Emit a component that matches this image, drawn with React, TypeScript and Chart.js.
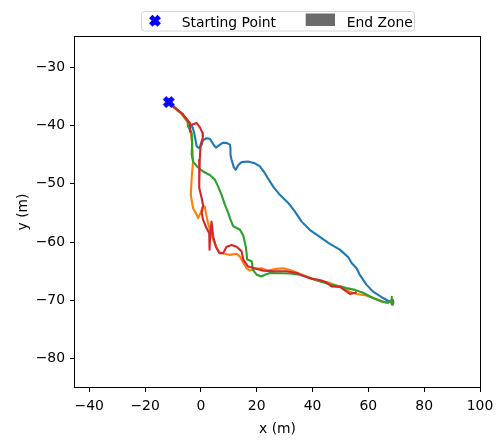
import React, { useEffect, useRef } from "react";
import { Chart, registerables } from "chart.js";

Chart.register(...registerables);

// Recorded trajectories, [x, y] in metres
const trial1: [number, number][] = [
  [-11.5, -36.0], [-9.3, -37.0], [-6.8, -38.0], [-4.7, -39.2], [-2.9, -40.4], [-2.4, -41.3],
  [-1.5, -43.6], [-0.6, -43.9], [0.3, -43.3], [0.8, -42.5], [2.0, -42.2], [3.2, -42.3],
  [4.4, -43.2], [5.4, -43.8], [6.6, -43.4], [7.8, -43.0], [9.2, -43.0], [10.4, -43.3],
  [10.6, -43.9], [10.6, -45.0], [11.0, -45.9], [11.8, -47.2], [12.5, -47.6], [13.4, -46.8],
  [14.6, -46.3], [16.9, -46.2], [19.3, -46.5], [21.1, -47.0], [22.9, -48.2], [25.9, -50.5],
  [28.3, -51.9], [31.3, -53.3], [33.7, -54.8], [36.1, -56.5], [39.0, -57.9], [42.6, -59.1],
  [46.2, -60.3], [49.8, -61.3], [52.8, -62.6], [54.0, -63.6], [55.8, -64.5], [56.9, -65.6],
  [59.3, -67.3], [61.7, -68.5], [65.3, -69.6], [68.3, -70.4],
];

const trial2: [number, number][] = [
  [-11.5, -36.0], [-9.3, -37.1], [-6.8, -38.1], [-4.9, -39.4], [-3.7, -41.0], [-3.1, -43.3],
  [-2.8, -46.2], [-3.3, -49.0], [-3.6, -51.9], [-3.3, -52.8], [-2.8, -54.2], [-1.5, -55.3],
  [-1.0, -55.9], [-0.1, -55.0], [0.6, -54.0], [1.4, -53.9], [1.8, -55.0], [2.3, -56.2],
  [3.2, -57.9], [4.4, -59.6], [5.6, -61.0], [6.8, -61.8], [8.6, -62.0], [10.4, -62.2],
  [12.8, -62.0], [14.0, -62.5], [15.2, -63.6], [16.4, -64.5], [17.6, -64.9], [19.3, -64.6],
  [21.7, -64.5], [24.1, -64.9], [27.1, -64.6], [29.5, -64.5], [31.9, -64.8], [34.3, -65.2],
  [37.9, -65.9], [41.4, -66.6], [46.2, -67.0], [51.0, -67.9], [53.4, -68.5], [55.8, -68.9],
  [58.7, -69.1], [61.7, -69.6], [66.5, -70.4], [68.3, -70.2],
];

const trial3: [number, number][] = [
  [-11.5, -36.0], [-9.3, -37.0], [-6.8, -38.0], [-4.7, -39.2], [-4.6, -40.2], [-3.3, -41.3],
  [-3.1, -42.8], [-3.3, -45.0], [-2.8, -46.2], [-1.5, -47.0], [0.8, -47.9], [3.2, -48.5],
  [5.0, -49.3], [6.2, -50.5], [7.4, -51.9], [8.6, -53.6], [9.8, -55.0], [10.4, -55.9],
  [11.6, -57.3], [14.0, -57.9], [15.2, -58.9], [16.1, -60.8], [16.6, -63.0], [18.2, -63.3],
  [18.7, -64.8], [20.0, -65.6], [21.7, -65.9], [22.9, -65.6], [24.7, -65.3], [31.9, -65.4],
  [35.5, -65.6], [39.6, -66.2], [43.2, -66.8], [46.2, -67.3], [49.8, -67.6], [52.2, -67.9],
  [55.2, -68.2], [58.1, -68.7], [61.7, -69.6], [64.7, -70.2], [67.1, -70.4], [68.3, -69.9],
  [68.4, -69.4], [68.4, -70.7],
];

const trial4: [number, number][] = [
  [-11.5, -36.0], [-9.2, -37.0], [-6.6, -38.0], [-4.5, -39.3], [-3.9, -39.6], [-3.9, -40.5],
  [-3.8, -41.1], [-3.8, -40.1], [-2.8, -39.8], [-1.5, -39.6], [-0.4, -40.3], [0.6, -41.3],
  [0.7, -42.1], [-0.1, -43.3], [-0.4, -45.9], [-0.6, -48.5], [-0.6, -50.7], [0.3, -52.5],
  [0.8, -53.8], [0.3, -55.0], [0.8, -56.2], [2.0, -57.6], [3.0, -58.5], [3.2, -60.2],
  [3.0, -61.3], [3.3, -59.3], [3.8, -56.5], [4.4, -59.0], [5.4, -60.8], [6.6, -61.9],
  [8.0, -61.9], [9.2, -60.8], [11.0, -60.5], [12.8, -60.8], [14.6, -61.6], [15.2, -63.0],
  [16.9, -64.2], [19.3, -64.5], [22.3, -64.9], [25.9, -65.0], [30.7, -65.0], [34.3, -65.3],
  [36.6, -65.8], [39.6, -66.3], [42.6, -66.5], [45.0, -66.9], [46.8, -67.6], [49.8, -67.7],
  [51.6, -68.3], [53.4, -68.9], [55.2, -68.7], [55.8, -68.5],
];

const startPoint: [number, number] = [-11.5, -36.0];
const endZoneCenter: [number, number] = [68.7, -70.3];
const endZoneRadius = 0.6;

const xTicks = [-40, -20, 0, 20, 40, 60, 80, 100];
const yTicks = [-80, -70, -60, -50, -40, -30];
const xLimits = [-45.1, 100];
const yLimits = [-84.85, -24.85];

const trialColors = ["#1f77b4", "#ff7f0e", "#2ca02c", "#d62728"];
const START_COLOR = "#0000ff";
const END_COLOR = "#6b6b6b";
const FONT_FAMILY = "'DejaVu Sans', 'Liberation Sans', sans-serif";
const FONT_SIZE = 13.9;

const fmt = (v: number) => (v < 0 ? "\u2212" + Math.abs(v) : String(v));

// Filled "X" marker: a plus shape rotated by 45 degrees
function traceXMarker(ctx: CanvasRenderingContext2D, cx: number, cy: number, r: number) {
  const pts = [
    [-1, -3], [1, -3], [1, -1], [3, -1], [3, 1], [1, 1],
    [1, 3], [-1, 3], [-1, 1], [-3, 1], [-3, -1], [-1, -1],
  ];
  const c = Math.SQRT1_2;
  ctx.beginPath();
  pts.forEach(([px, py], i) => {
    const x = (px / 3) * r;
    const y = (py / 3) * r;
    const rx = cx + (x - y) * c;
    const ry = cy + (x + y) * c;
    if (i === 0) ctx.moveTo(rx, ry);
    else ctx.lineTo(rx, ry);
  });
  ctx.closePath();
}

function drawXMarker(ctx: CanvasRenderingContext2D, cx: number, cy: number, r: number, color: string) {
  ctx.save();
  traceXMarker(ctx, cx, cy, r);
  ctx.fillStyle = color;
  ctx.strokeStyle = color;
  ctx.lineWidth = 1.2;
  ctx.lineJoin = "miter";
  ctx.fill();
  ctx.stroke();
  ctx.restore();
}

const toPoints = (arr: [number, number][]) => arr.map(([x, y]) => ({ x, y }));

export default function App() {
  const ref = useRef<HTMLCanvasElement>(null);

  useEffect(() => {
    const canvas = ref.current;
    if (!canvas) return;

    const marker = document.createElement("canvas");
    marker.width = 16;
    marker.height = 16;
    const mctx = marker.getContext("2d")!;
    drawXMarker(mctx, 8, 8, 5.4, START_COLOR);

    // End zone circle (in data units) beneath the trajectories
    const endZonePlugin = {
      id: "endZone",
      beforeDatasetsDraw(chart: any) {
        const { ctx, chartArea, scales } = chart;
        const cx = scales.x.getPixelForValue(endZoneCenter[0]);
        const cy = scales.y.getPixelForValue(endZoneCenter[1]);
        const rx = Math.abs(scales.x.getPixelForValue(endZoneCenter[0] + endZoneRadius) - cx);
        const ry = Math.abs(scales.y.getPixelForValue(endZoneCenter[1] + endZoneRadius) - cy);
        ctx.save();
        ctx.beginPath();
        ctx.rect(chartArea.left, chartArea.top, chartArea.width, chartArea.height);
        ctx.clip();
        ctx.beginPath();
        ctx.ellipse(cx, cy, rx, ry, 0, 0, Math.PI * 2);
        ctx.fillStyle = END_COLOR;
        ctx.fill();
        ctx.restore();
      },
    };

    // Axes frame and legend box
    const framePlugin = {
      id: "frame",
      afterDatasetsDraw(chart: any) {
        const { ctx, chartArea } = chart;
        ctx.save();
        ctx.strokeStyle = "#000";
        ctx.lineWidth = 1;
        ctx.strokeRect(
          Math.round(chartArea.left) - 0.5,
          Math.round(chartArea.top) - 0.5,
          Math.round(chartArea.width) + 1,
          Math.round(chartArea.height) + 1
        );
        ctx.restore();
      },
      afterDraw(chart: any) {
        const { ctx, chartArea } = chart;
        const cx = (chartArea.left + chartArea.right) / 2;
        const left = cx - 136.5;
        const top = 11.5;
        const w = 273;
        const h = 19.5;
        ctx.save();
        ctx.beginPath();
        ctx.roundRect(left + 0.5, top, w, h, 3);
        ctx.fillStyle = "rgba(255,255,255,0.8)";
        ctx.fill();
        ctx.strokeStyle = "#d5d5d5";
        ctx.lineWidth = 1;
        ctx.stroke();

        drawXMarker(ctx, left + 14, 20.7, 5.4, START_COLOR);

        ctx.font = `${FONT_SIZE}px ${FONT_FAMILY}`;
        ctx.fillStyle = "#000";
        ctx.textBaseline = "alphabetic";
        ctx.textAlign = "left";
        ctx.fillText("Starting Point", left + 40.7, 26.6);

        ctx.fillStyle = END_COLOR;
        ctx.fillRect(left + 164.7, 13.5, 29.3, 12.5);

        ctx.fillStyle = "#000";
        ctx.fillText("End Zone", left + 205.7, 26.6);
        ctx.restore();
      },
    };

    const lineDataset = (data: [number, number][], color: string, order: number) => ({
      data: toPoints(data),
      showLine: true,
      borderColor: color,
      backgroundColor: color,
      borderWidth: 2.1,
      borderJoinStyle: "round" as const,
      borderCapStyle: "butt" as const,
      pointRadius: 0,
      pointHoverRadius: 0,
      tension: 0,
      order,
    });

    const tickFont = { family: FONT_FAMILY, size: FONT_SIZE };

    const chart = new Chart(canvas, {
      type: "scatter",
      data: {
        datasets: [
          {
            data: [{ x: startPoint[0], y: startPoint[1] }],
            pointStyle: marker as any,
            pointRadius: 8,
            order: 0,
          } as any,
          lineDataset(trial4, trialColors[3], 1),
          lineDataset(trial3, trialColors[2], 2),
          lineDataset(trial2, trialColors[1], 3),
          lineDataset(trial1, trialColors[0], 4),
        ],
      },
      options: {
        animation: false,
        responsive: false,
        devicePixelRatio: 1,
        events: [],
        layout: { padding: { left: 0, right: 17, top: 37, bottom: 0 } },
        plugins: {
          legend: { display: false },
          tooltip: { enabled: false },
        },
        scales: {
          x: {
            type: "linear",
            position: "bottom",
            min: xLimits[0],
            max: xLimits[1],
            afterBuildTicks: (scale: any) => {
              scale.ticks = xTicks.map((v) => ({ value: v }));
            },
            afterFit: (scale: any) => {
              scale.height = 53;
              scale.paddingLeft = 0;
              scale.paddingRight = 0;
            },
            grid: {
              display: true,
              drawOnChartArea: false,
              drawTicks: true,
              tickLength: 5,
              tickWidth: 1,
              color: "#000",
            },
            border: { display: false },
            ticks: {
              font: tickFont,
              color: "#000",
              padding: 6,
              maxRotation: 0,
              autoSkip: false,
              callback: (v: any) => fmt(Number(v)),
            },
            title: {
              display: true,
              text: "x (m)",
              font: tickFont,
              color: "#000",
              padding: { top: 0, bottom: 2 },
            },
          },
          y: {
            type: "linear",
            position: "left",
            min: yLimits[0],
            max: yLimits[1],
            afterBuildTicks: (scale: any) => {
              scale.ticks = yTicks.map((v) => ({ value: v }));
            },
            afterFit: (scale: any) => {
              scale.width = 75;
              scale.paddingTop = 0;
              scale.paddingBottom = 0;
            },
            grid: {
              display: true,
              drawOnChartArea: false,
              drawTicks: true,
              tickLength: 5,
              tickWidth: 1,
              color: "#000",
            },
            border: { display: false },
            ticks: {
              font: tickFont,
              color: "#000",
              padding: 5,
              autoSkip: false,
              callback: (v: any) => fmt(Number(v)),
            },
            title: {
              display: true,
              text: "y (m)",
              font: tickFont,
              color: "#000",
              padding: { top: 15, bottom: 0 },
            },
          },
        },
      },
      plugins: [endZonePlugin, framePlugin],
    });

    return () => chart.destroy();
  }, []);

  return (
    <div style={{ position: "fixed", left: 0, top: 0, width: 497, height: 440, background: "#fff" }}>
      <canvas ref={ref} width={497} height={440} style={{ display: "block" }} />
    </div>
  );
}
